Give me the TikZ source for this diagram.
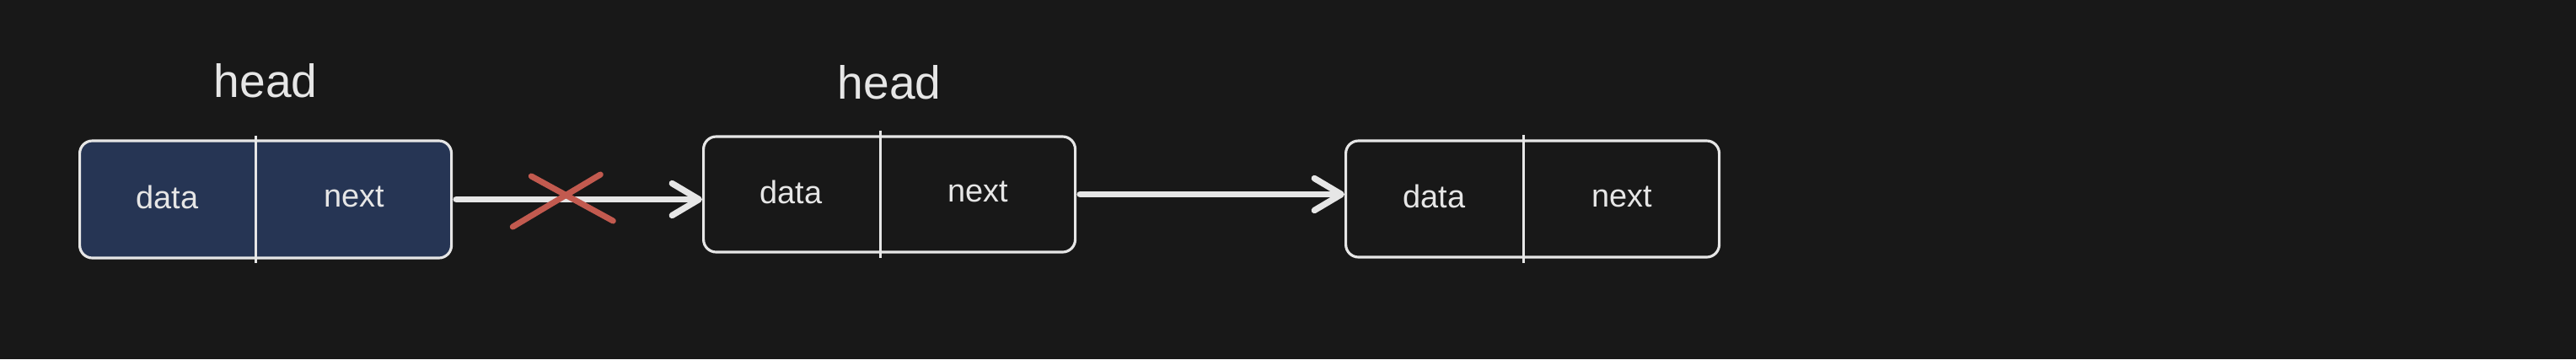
\documentclass[tikz,border=0pt]{standalone}
\usepackage{fontspec}
\setmainfont{Liberation Sans}
\usetikzlibrary{positioning,arrows.meta}

\definecolor{sfondo}{HTML}{181818}
\definecolor{headfill}{HTML}{263554}
\definecolor{tratto}{HTML}{E6E6E6}
\definecolor{taglio}{HTML}{C25A4F}

\begin{document}
\begin{tikzpicture}[
    box/.style={draw=tratto, line width=0.9pt, rounded corners=0.15cm, rectangle, anchor=180},
    cell/.style={rectangle, minimum height=1.5cm, inner sep=0pt, text depth=0.06cm, anchor=180, text=tratto, font={\fontsize{10.8}{13}\selectfont}},
    headlbl/.style={inner sep=0pt, text=tratto, font={\fontsize{15.7}{18}\selectfont}},
    divider/.style={draw=tratto, line width=0.8pt},
    link/.style={draw=tratto, line width=2.1pt, line cap=round, shorten <=0.04cm, -{Straight Barb[length=3.2mm, width=3.8mm, round]}},
    cut/.style={draw=taglio, line width=2pt, line cap=round}
]
    \fill[sfondo] (0,0) rectangle (30.56,4.26);
    \useasboundingbox (0,0) rectangle (30.56,4.26);

    \draw
    %% primo nodo (head)
    (0.93,1.895)node[box, fill=headfill, minimum width=4.41cm, minimum height=1.39cm](b1){}
    (b1.180)node[cell, minimum width=2.09cm](d1){data}
    (d1.0)node[cell, minimum width=2.32cm](n1){next}

    %% secondo nodo
    (8.33,1.955)node[box, minimum width=4.41cm, minimum height=1.37cm](b2){}
    (b2.180)node[cell, minimum width=2.10cm](d2){data}
    (d2.0)node[cell, minimum width=2.31cm](n2){next}

    %% terzo nodo
    (15.95,1.90)node[box, minimum width=4.43cm, minimum height=1.38cm](b3){}
    (b3.180)node[cell, minimum width=2.11cm](d3){data}
    (d3.0)node[cell, minimum width=2.32cm](n3){next}
    ;

    % separatori data | next
    \foreach \i in {1,2,3}
        \draw[divider] (d\i.north east) -- (d\i.south east);

    % etichette head
    \node[headlbl, above=0.49cm of b1](h1){head};
    \node[headlbl, above=0.42cm of b2](h2){head};

    % puntatori
    \draw[link] (b1.east) -- coordinate[pos=0.44](x) (b1.east -| b2.west);
    \draw[link] (b2.east) -- (b2.east -| b3.west);

    % collegamento tagliato
    \draw[cut] ([shift={(-0.59,-0.325)}]x) -- ([shift={(0.45,0.295)}]x);
    \draw[cut] ([shift={(-0.37,0.275)}]x) -- ([shift={(0.60,-0.255)}]x);
\end{tikzpicture}
\end{document}
